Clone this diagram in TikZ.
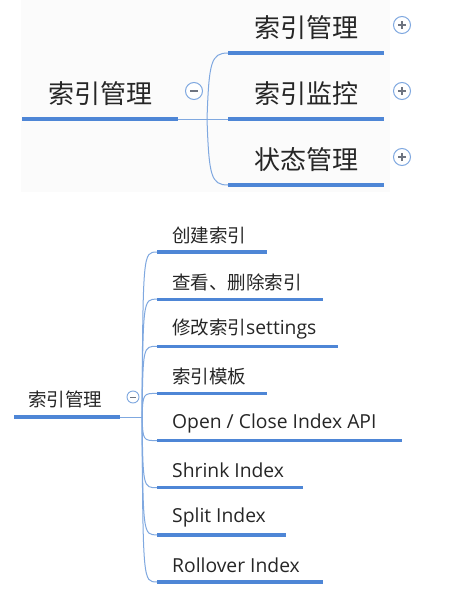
\documentclass[tikz,border=0pt]{standalone}
\usepackage{fontspec}
\setmainfont{Noto Sans CJK SC}
\newfontfamily\latff{Open Sans}
\newcommand\latf{\latff\fontsize{19.3}{20}\selectfont}
\definecolor{ulblue}{HTML}{4E86D6}
\definecolor{lnblue}{HTML}{7FA8E0}
\definecolor{txt}{HTML}{262626}
\definecolor{bgtop}{HTML}{FBFBFB}
\definecolor{sgn}{HTML}{6E7480}
\begin{document}
\begin{tikzpicture}[x=1pt,y=-1pt,
  bigtxt/.style={text=txt,font=\fontsize{26}{28}\selectfont,inner sep=0pt,anchor=center},
  smtxt/.style={text=txt,font=\fontsize{18.5}{20}\selectfont,inner sep=0pt,anchor=west},
  ulbig/.style={draw=ulblue,line width=4pt},
  ulsm/.style={draw=ulblue,line width=3.2pt},
  branch/.style={draw=lnblue,line width=1pt},
  circbig/.style={circle,draw=lnblue,line width=1pt,minimum size=17pt,inner sep=0pt,fill=white},
  circsm/.style={circle,draw=lnblue,line width=0.9pt,minimum size=12pt,inner sep=0pt,fill=white},
  sign/.style={draw=sgn,line width=1.1pt}
]
\useasboundingbox (0,0) rectangle (455,594);
\fill[white] (0,0) rectangle (455,594);
\fill[bgtop] (21,0) rectangle (390,192);

% ---------- top diagram ----------
\coordinate (rs) at (22,119);
\coordinate (re) at (178,119);
\coordinate (tr) at (207,119);
\node[bigtxt] (root) at (100,94) {索引管理};
\draw[ulbig] (rs) -- (re);

\foreach \i/\y/\t in {1/53/索引管理,2/119/索引监控,3/185/状态管理}{
  \coordinate (c\i s) at (228,\y);
  \coordinate (c\i e) at (384,\y);
  \node[bigtxt] (ct\i) at (306,\y-25) {\t};
}
\draw[branch] (re) -- (c2s);
\draw[branch] (tr) .. controls (209,62) and (211,53) .. (c1s);
\draw[branch] (tr) .. controls (209,176) and (211,185) .. (c3s);
\foreach \i in {1,2,3}{ \draw[ulbig] (c\i s) -- (c\i e); }

\node[circbig] (mtop) at (194,91) {};
\draw[sign] ([xshift=-4pt]mtop.center) -- ([xshift=4pt]mtop.center);
\foreach \i/\y in {1/25,2/91,3/157}{
  \node[circbig] (p\i) at (402,\y) {};
  \draw[sign] ([xshift=-4pt]p\i.center) -- ([xshift=4pt]p\i.center);
  \draw[sign] ([yshift=-4pt]p\i.center) -- ([yshift=4pt]p\i.center);
}

% ---------- bottom diagram ----------
\coordinate (bs) at (14,417);
\coordinate (be) at (120,417);
\coordinate (bt) at (142,417);
\node[text=txt,font=\fontsize{18.5}{20}\selectfont,inner sep=0pt] (broot) at (65,399) {索引管理};
\draw[ulsm] (bs) -- (be);
\draw[branch] (be) -- (bt);

\foreach \i/\y/\e/\t in {1/252/267/{创建索引},2/299.1/323/{查看、删除索引},3/346.3/338/{修改索引{\latf settings}},4/393.4/267/{索引模板},5/440.6/402/{\latf Open / Close Index API},6/487.7/303/{\latf Shrink Index},7/534.9/286/{\latf Split Index},8/582/323/{\latf Rollover Index}}{
  \coordinate (k\i s) at (157,\y);
  \coordinate (k\i e) at (\e,\y);
  \node[smtxt] (kt\i) at (172,\y-17) {\t};
  \draw[branch] (bt) .. controls (143,\y) .. (k\i s);
  \draw[ulsm] (k\i s) -- (k\i e);
}
\node[circsm] (mbot) at (133,397) {};
\draw[sign,line width=0.9pt] ([xshift=-3pt]mbot.center) -- ([xshift=3pt]mbot.center);
\end{tikzpicture}
\end{document}
